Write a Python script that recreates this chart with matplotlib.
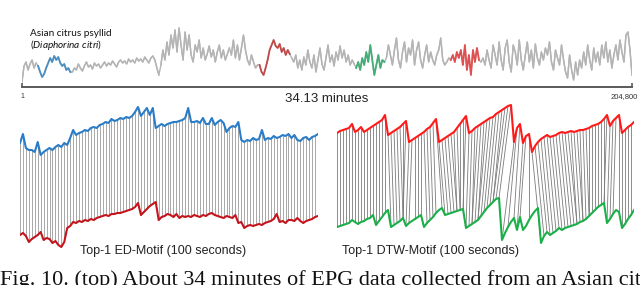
import numpy as np
import matplotlib
matplotlib.use("Agg")
import matplotlib.pyplot as plt
from matplotlib.collections import LineCollection

plt.rcParams['font.family'] = ['Liberation Sans', 'DejaVu Sans']
plt.rcParams['mathtext.fontset'] = 'custom'
plt.rcParams['mathtext.rm'] = 'Lato'
plt.rcParams['mathtext.it'] = 'Lato:italic'

# ---- top: 34 minutes of EPG signal, split into segments (gray / highlighted)
epg_segments = [
    ('gray',  [8, 24, 28, 20, 26, 30, 22, 27]),
    ('blue',  [24, 18, 13, 16, 22, 27, 32, 28, 34, 30, 33, 27, 24, 26, 20, 22, 18]),
    ('gray',  [18, 22, 20, 26, 22, 19, 24, 28, 23, 25, 21, 27, 24, 26, 22, 25, 28, 24, 27, 25,
               29, 26, 23, 28, 30, 27, 29, 26, 31, 28, 30, 27, 32, 29, 31, 28, 33, 30, 27, 32,
               34, 30, 22, 15]),
    ('gray',  [25, 40, 30, 48, 35, 55, 42, 60, 38, 62, 45, 30, 58, 40, 55, 35, 28, 45, 38, 50,
               32, 42, 30, 36, 44, 33, 40, 28, 38, 45, 32, 40, 30, 36, 42]),
    ('gray',  [35, 50, 32, 45, 30, 42, 55, 40, 30, 25, 35, 28, 22, 25]),
    ('red',   [25, 18, 15, 22, 30, 40, 45, 50, 44, 42, 46, 38, 42, 35, 40, 36]),
    ('gray',  [32, 28, 35, 22, 30, 20, 33, 25, 40, 28, 22, 35, 18, 30, 42, 26, 20, 32, 45, 28,
               35, 24, 38, 30, 44, 32, 40, 28, 35, 25, 30, 26]),
    ('green', [22, 28, 20, 32, 25, 38, 28, 45, 30, 15, 25, 35, 22, 30, 28]),
    ('gray',  [32, 45, 35, 25, 40, 52, 30, 22, 38, 48, 28, 42, 35, 50, 25, 40, 48, 30, 22, 35,
               45, 28, 38, 30, 25, 35, 40, 52, 30, 25, 28, 32]),
    ('red2',  [30, 35, 28, 38, 32, 40, 25, 45, 20, 35, 15, 40, 28, 42, 30]),
    ('gray',  [28, 32, 25, 40, 30, 22, 45, 35, 25, 48, 30, 20, 42, 50, 28, 18, 45, 38, 25, 50,
               30, 20, 35, 48, 28, 40, 22, 46, 32, 25, 38, 30, 42, 35, 48, 28, 20, 40, 32, 25,
               45, 30, 18, 12, 35, 20, 10, 28, 15, 30, 22, 38, 25, 45, 30, 20, 42, 28, 38, 25,
               45, 32, 48, 28, 40, 22, 35, 45, 30, 50, 38, 28, 55, 58, 40, 15]),
]
seg_colors = {'gray': '#b4b4b4', 'blue': '#4a8fc4', 'red': '#c44a4a',
              'green': '#45ad78', 'red2': '#e05050'}

# ---- bottom left: top-1 ED motif pair
ed_blue = [107, 116, 102, 100, 100, 98, 108, 95, 98, 100,
           102, 100, 103, 105, 103, 107, 105, 112, 120, 115,
           117, 118, 120, 119, 122, 123, 122, 125, 126, 128,
           127, 131, 129, 130, 132, 131, 133, 132, 134, 138,
           143, 134, 138, 142, 135, 142, 122, 124, 126, 124,
           126, 127, 128, 128, 129, 130, 132, 142, 128, 128,
           129, 127, 132, 126, 126, 132, 125, 128, 130, 127,
           118, 122, 124, 123, 128, 110, 108, 110, 109, 112,
           110, 111, 120, 110, 112, 111, 114, 112, 113, 115,
           114, 116, 112, 115, 110, 109, 112, 113, 110, 113,
           114, 116]
ed_red = [15, 17, 14, 8, 11, 13, 15, 18, 10, 12,
          11, 7, 9, 5, 3, 8, 22, 24, 28, 27,
          29, 28, 30, 29, 31, 30, 32, 33, 34, 35,
          34, 36, 36, 37, 37, 38, 39, 40, 41, 43,
          47, 35, 38, 41, 44, 46, 48, 30, 33, 34,
          36, 35, 33, 36, 32, 34, 33, 34, 33, 35,
          34, 33, 35, 34, 36, 37, 35, 34, 33, 32,
          34, 33, 32, 35, 27, 28, 22, 24, 25, 24,
          25, 26, 25, 27, 28, 29, 31, 36, 28, 29,
          27, 30, 30, 29, 32, 29, 27, 29, 30, 31,
          33, 34]

# ---- bottom right: top-1 DTW motif pair and its warping path
dtw_red = [117, 119, 120, 121, 122, 126, 118, 120, 123, 118,
           120, 122, 124, 126, 128, 130, 135, 115, 117, 119,
           121, 123, 126, 129, 108, 110, 112, 114, 116, 118,
           121, 123, 127, 131, 108, 110, 112, 114, 116, 118,
           122, 126, 130, 134, 117, 119, 122, 124, 126, 128,
           130, 132, 133, 136, 138, 140, 142, 144, 145, 108,
           122, 126, 107, 114, 116, 98, 104, 108, 111, 113,
           115, 113, 114, 115, 117, 118, 117, 118, 119, 118,
           119, 120, 120, 121, 122, 124, 125, 126, 128, 131,
           135, 124, 129, 132, 135, 117, 120, 123, 125, 128]
dtw_green = [23, 24, 25, 26, 27, 30, 28, 26, 28, 29,
             31, 32, 35, 25, 29, 33, 37, 40, 23, 25,
             27, 29, 32, 24, 27, 29, 31, 33, 35, 23,
             27, 30, 33, 37, 40, 42, 35, 36, 37, 38,
             39, 40, 41, 22, 24, 26, 28, 30, 34, 38,
             42, 45, 48, 51, 52, 10, 17, 23, 28, 32,
             20, 33, 20, 24, 30, 35, 39, 42, 7, 14,
             18, 15, 17, 19, 22, 20, 22, 23, 24, 25,
             26, 28, 29, 31, 34, 37, 40, 43, 45, 47,
             27, 31, 36, 40, 38, 22, 26, 31, 35, 40]
dtw_match = [0, 1, 2, 3, 4, 5, 6, 7, 8, 9, 10, 11, 12, 13, 14, 15, 16,
             18, 19, 20, 21, 22, 22, 22, 23,
             24, 26, 27, 28, 30, 31, 32, 33, 35, 36,
             37, 38, 39, 40, 40, 41, 41, 42, 42, 43,
             44, 45, 45, 46, 47, 47, 48, 49, 50, 51, 52, 52, 53, 54, 55,
             57, 59, 60, 61, 64, 68,
             69, 70, 71, 72, 73, 74, 75, 76, 77, 78, 79, 80, 80, 81, 82, 82,
             83, 84, 84, 85, 86, 87, 88, 89, 89, 90,
             91, 92, 94, 95, 96, 97, 98, 99]

W, H = 640, 285
fig = plt.figure(figsize=(W / 100, H / 100), dpi=100)


def box(x0, y0, x1, y1):
    # pixel box (top-left origin) -> figure fraction rect
    return [x0 / W, 1 - y1 / H, (x1 - x0) / W, (y1 - y0) / H]


# ---------------- top panel
ax = fig.add_axes(box(22, 22, 632, 87))
start = 0
for name, vals in epg_segments:
    xs = np.arange(start, start + len(vals))
    if name == 'gray':
        ax.plot(xs, vals, color=seg_colors[name], lw=1.0, zorder=2)
    else:
        ax.plot(xs, vals, color=seg_colors[name], lw=1.3, zorder=3)
    start += len(vals)
# join the segments with gray so the trace is continuous
full = np.concatenate([v for _, v in epg_segments])
ax.plot(np.arange(len(full)), full, color=seg_colors['gray'], lw=1.0, zorder=1)
ax.set_xlim(0, len(full) - 1)
ax.set_ylim(3, 68)
for s in ['top', 'left', 'right']:
    ax.spines[s].set_visible(False)
ax.spines['bottom'].set_color('#5a5a5a')
ax.spines['bottom'].set_linewidth(1.4)
ax.set_yticks([])
ax.set_xticks([0, len(full) - 1])
ax.set_xticklabels([])
ax.tick_params(axis='x', direction='in', length=3, width=1.2, color='#5a5a5a')

fig.text(22 / W, 1 - 97 / H, '1', fontsize=5, ha='center', va='center', color='#333333')
fig.text(638 / W, 1 - 97 / H, '204,800', fontsize=5.5, ha='right', va='center', color='#333333')
fig.text(327 / W, 1 - 99 / H, '34.13 minutes', fontsize=9.5, ha='center', va='center',
         color='#222222')
fig.text(30 / W, 1 - 33 / H, 'Asian citrus psyllid', fontsize=7.2, ha='left', va='center',
         family=['Lato', 'DejaVu Sans'], color='#111111')
fig.text(30 / W, 1 - 45 / H, r'($\mathit{Diaphorina\ citri}$)', fontsize=7.2, ha='left',
         va='center', family=['Lato', 'DejaVu Sans'], color='#111111')

# ---------------- ED motif
ax_ed = fig.add_axes(box(20, 100, 318, 250))
xi = np.arange(len(ed_blue))
ax_ed.vlines(xi, ed_red, ed_blue, color='#a8a8a8', lw=0.7, zorder=1)
ax_ed.plot(xi, ed_blue, color='#2a7cc7', lw=1.5, zorder=3)
ax_ed.plot(xi, ed_red, color='#c4141c', lw=1.5, zorder=3)
ax_ed.set_xlim(0, len(ed_blue) - 1)
ax_ed.set_ylim(0, 150)
ax_ed.axis('off')
fig.text(163 / W, 1 - 251 / H, 'Top-1 ED-Motif (100 seconds)', fontsize=9, ha='center',
         va='center', color='#222222')

# ---------------- DTW motif
ax_dtw = fig.add_axes(box(337, 100, 634, 250))
xr = np.arange(len(dtw_red))
segs = [[(i, dtw_red[i]), (j, dtw_green[j])] for i, j in enumerate(dtw_match)]
ax_dtw.add_collection(LineCollection(segs, colors='#7a7a7a', linewidths=0.6, zorder=1))
ax_dtw.plot(xr, dtw_red, color='#ff1a1a', lw=1.5, zorder=3)
ax_dtw.plot(np.arange(len(dtw_green)), dtw_green, color='#1aaf48', lw=1.5, zorder=3)
ax_dtw.set_xlim(0, len(dtw_red) - 1)
ax_dtw.set_ylim(0, 150)
ax_dtw.axis('off')
fig.text(431 / W, 1 - 251 / H, 'Top-1 DTW-Motif (100 seconds)', fontsize=9, ha='center',
         va='center', color='#222222')

# ---------------- caption line, clipped by the bottom edge as in the source page
fig.text(0, 1 - 270 / H, 'Fig. 10. (top) About 34 minutes of EPG data collected from an Asian citrus',
         fontsize=16, ha='left', va='top', family=['Liberation Serif', 'DejaVu Serif'],
         color='#111111')

fig.savefig('out.png', dpi=100)
